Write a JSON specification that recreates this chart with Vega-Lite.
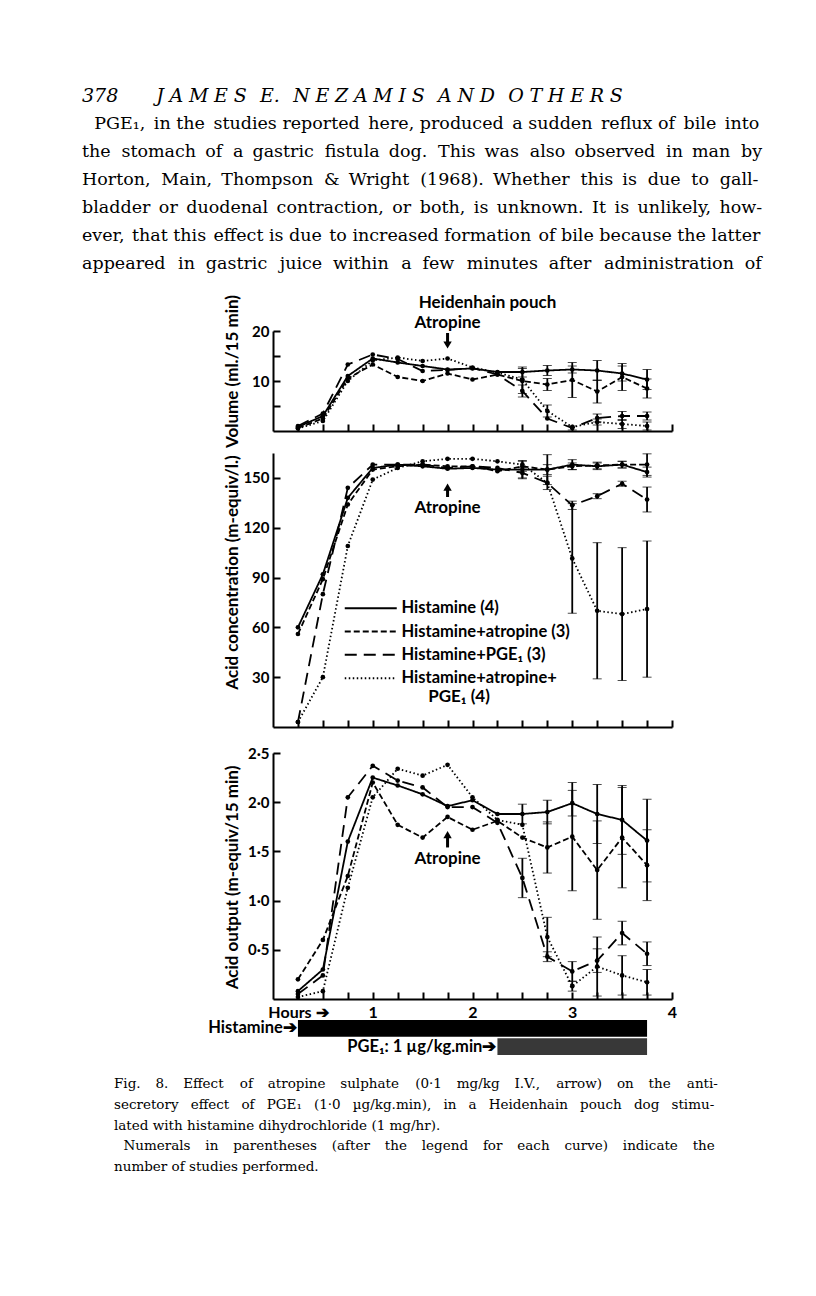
{
  "$schema": "https://vega.github.io/schema/vega-lite/v6.json",
  "background": "white",
  "padding": {"left": 82, "top": 86, "right": 5, "bottom": 5},
  "title": {
    "text": "378\u2003\u2003J\u2009\u200aA\u2009\u200aM\u2009\u200aE\u2009\u200aS\u2002\u2009E.\u2009\u2002N\u2009\u200aE\u2009\u200aZ\u2009\u200aA\u2009\u200aM\u2009\u200aI\u2009\u200aS\u2002\u2009A\u2009\u200aN\u2009\u200aD\u2002\u2009O\u2009\u200aT\u2009\u200aH\u2009\u200aE\u2009\u200aR\u2009\u200aS",
    "subtitle": [
      "\u200b\u2002\u2009PGE\u2081,\u2006 in the\u2006 studies reported\u2006 here, produced\u2006 a sudden\u2006 reflux of\u2006 bile\u2006 into",
      "the\u2009\u200a stomach\u2009 of\u2009\u200a a\u2009 gastric\u2009\u200a fistula\u2009 dog.\u2009\u200a This\u2009 was\u2009\u200a also\u2009 observed\u2009\u200a in\u2009 man\u2009\u200a by",
      "Horton,\u2009\u200a Main,\u2009 Thompson\u2009\u200a &\u2009 Wright\u2009\u200a (1968).\u2009 Whether\u2009\u200a this\u2009 is\u2009\u200a due\u2009\u200a to\u2009\u200a gall-",
      "bladder\u2006 or\u2006 duodenal\u2006 contraction,\u2006 or\u2006 both,\u2006 is\u2006 unknown.\u2006 It\u2006 is\u2006 unlikely,\u2006 how-",
      "ever,\u200a that this\u200a effect is due\u200a to increased formation\u200a of bile because the latter",
      "appeared\u2009\u200a\u200a in\u2009\u200a gastric\u2009\u200a\u200a juice\u2009\u200a within\u2009\u200a\u200a a\u2009\u200a few\u2009\u200a\u200a minutes\u2009\u200a after\u2009\u200a\u200a administration\u2009\u200a of"
    ],
    "anchor": "start",
    "frame": "group",
    "dx": -191,
    "font": "DejaVu Serif",
    "fontSize": 19,
    "fontStyle": "italic",
    "fontWeight": "normal",
    "color": "black",
    "subtitleFont": "DejaVu Serif",
    "subtitleFontSize": 17.5,
    "subtitleColor": "black",
    "subtitleLineHeight": 28,
    "subtitlePadding": 9,
    "offset": 22
  },
  "datasets": {
    "series": [
      {"panel":1,"series":"Histamine (4)","t":0.25,"v":0.8},
      {"panel":1,"series":"Histamine (4)","t":0.5,"v":3.0},
      {"panel":1,"series":"Histamine (4)","t":0.75,"v":11.0},
      {"panel":1,"series":"Histamine (4)","t":1.0,"v":14.5},
      {"panel":1,"series":"Histamine (4)","t":1.25,"v":13.7},
      {"panel":1,"series":"Histamine (4)","t":1.5,"v":13.0},
      {"panel":1,"series":"Histamine (4)","t":1.75,"v":12.3},
      {"panel":1,"series":"Histamine (4)","t":2.0,"v":12.5},
      {"panel":1,"series":"Histamine (4)","t":2.25,"v":11.8},
      {"panel":1,"series":"Histamine (4)","t":2.5,"v":11.8,"err":1.0},
      {"panel":1,"series":"Histamine (4)","t":2.75,"v":12.1,"err":1.0},
      {"panel":1,"series":"Histamine (4)","t":3.0,"v":12.3,"err":0.7},
      {"panel":1,"series":"Histamine (4)","t":3.25,"v":12.1,"err":2.0},
      {"panel":1,"series":"Histamine (4)","t":3.5,"v":11.5,"err":1.5},
      {"panel":1,"series":"Histamine (4)","t":3.75,"v":10.3,"err":2.0},
      {"panel":1,"series":"Histamine+atropine (3)","t":0.25,"v":0.6},
      {"panel":1,"series":"Histamine+atropine (3)","t":0.5,"v":2.5},
      {"panel":1,"series":"Histamine+atropine (3)","t":0.75,"v":10.5},
      {"panel":1,"series":"Histamine+atropine (3)","t":1.0,"v":13.3},
      {"panel":1,"series":"Histamine+atropine (3)","t":1.25,"v":10.8},
      {"panel":1,"series":"Histamine+atropine (3)","t":1.5,"v":10.0},
      {"panel":1,"series":"Histamine+atropine (3)","t":1.75,"v":11.5},
      {"panel":1,"series":"Histamine+atropine (3)","t":2.0,"v":10.3},
      {"panel":1,"series":"Histamine+atropine (3)","t":2.25,"v":11.3},
      {"panel":1,"series":"Histamine+atropine (3)","t":2.5,"v":10.0,"err":2.5},
      {"panel":1,"series":"Histamine+atropine (3)","t":2.75,"v":9.3,"err":1.2},
      {"panel":1,"series":"Histamine+atropine (3)","t":3.0,"v":10.2,"err":3.5},
      {"panel":1,"series":"Histamine+atropine (3)","t":3.25,"v":7.9,"err":2.3},
      {"panel":1,"series":"Histamine+atropine (3)","t":3.5,"v":10.8,"err":2.7},
      {"panel":1,"series":"Histamine+atropine (3)","t":3.75,"v":8.5,"err":1.9},
      {"panel":1,"series":"Histamine+PGE\u2081 (3)","t":0.25,"v":1.0},
      {"panel":1,"series":"Histamine+PGE\u2081 (3)","t":0.5,"v":3.5},
      {"panel":1,"series":"Histamine+PGE\u2081 (3)","t":0.75,"v":13.3},
      {"panel":1,"series":"Histamine+PGE\u2081 (3)","t":1.0,"v":15.3},
      {"panel":1,"series":"Histamine+PGE\u2081 (3)","t":1.25,"v":14.4},
      {"panel":1,"series":"Histamine+PGE\u2081 (3)","t":1.5,"v":12.0},
      {"panel":1,"series":"Histamine+PGE\u2081 (3)","t":1.75,"v":12.2},
      {"panel":1,"series":"Histamine+PGE\u2081 (3)","t":2.0,"v":12.6},
      {"panel":1,"series":"Histamine+PGE\u2081 (3)","t":2.25,"v":11.3},
      {"panel":1,"series":"Histamine+PGE\u2081 (3)","t":2.5,"v":8.0,"err":1.2},
      {"panel":1,"series":"Histamine+PGE\u2081 (3)","t":2.75,"v":2.5},
      {"panel":1,"series":"Histamine+PGE\u2081 (3)","t":3.0,"v":0.6,"err":0.4},
      {"panel":1,"series":"Histamine+PGE\u2081 (3)","t":3.25,"v":2.6,"err":0.8},
      {"panel":1,"series":"Histamine+PGE\u2081 (3)","t":3.5,"v":3.0,"err":0.9},
      {"panel":1,"series":"Histamine+PGE\u2081 (3)","t":3.75,"v":3.0,"err":0.8},
      {"panel":1,"series":"Histamine+atropine+PGE\u2081 (4)","t":0.25,"v":0.5},
      {"panel":1,"series":"Histamine+atropine+PGE\u2081 (4)","t":0.5,"v":2.0},
      {"panel":1,"series":"Histamine+atropine+PGE\u2081 (4)","t":0.75,"v":10.0},
      {"panel":1,"series":"Histamine+atropine+PGE\u2081 (4)","t":1.0,"v":14.1},
      {"panel":1,"series":"Histamine+atropine+PGE\u2081 (4)","t":1.25,"v":14.7},
      {"panel":1,"series":"Histamine+atropine+PGE\u2081 (4)","t":1.5,"v":14.0},
      {"panel":1,"series":"Histamine+atropine+PGE\u2081 (4)","t":1.75,"v":14.5},
      {"panel":1,"series":"Histamine+atropine+PGE\u2081 (4)","t":2.0,"v":12.7},
      {"panel":1,"series":"Histamine+atropine+PGE\u2081 (4)","t":2.25,"v":11.7},
      {"panel":1,"series":"Histamine+atropine+PGE\u2081 (4)","t":2.5,"v":10.3},
      {"panel":1,"series":"Histamine+atropine+PGE\u2081 (4)","t":2.75,"v":4.0,"err":1.2},
      {"panel":1,"series":"Histamine+atropine+PGE\u2081 (4)","t":3.0,"v":0.8},
      {"panel":1,"series":"Histamine+atropine+PGE\u2081 (4)","t":3.25,"v":1.8,"err":0.6},
      {"panel":1,"series":"Histamine+atropine+PGE\u2081 (4)","t":3.5,"v":1.4,"err":0.9},
      {"panel":1,"series":"Histamine+atropine+PGE\u2081 (4)","t":3.75,"v":1.0,"err":0.8},

      {"panel":2,"series":"Histamine (4)","t":0.25,"v":60},
      {"panel":2,"series":"Histamine (4)","t":0.5,"v":92},
      {"panel":2,"series":"Histamine (4)","t":0.75,"v":138},
      {"panel":2,"series":"Histamine (4)","t":1.0,"v":156},
      {"panel":2,"series":"Histamine (4)","t":1.25,"v":158},
      {"panel":2,"series":"Histamine (4)","t":1.5,"v":157},
      {"panel":2,"series":"Histamine (4)","t":1.75,"v":155.5},
      {"panel":2,"series":"Histamine (4)","t":2.0,"v":156},
      {"panel":2,"series":"Histamine (4)","t":2.25,"v":155},
      {"panel":2,"series":"Histamine (4)","t":2.5,"v":155,"err":5.5},
      {"panel":2,"series":"Histamine (4)","t":2.75,"v":155,"err":3},
      {"panel":2,"series":"Histamine (4)","t":3.0,"v":158,"err":3},
      {"panel":2,"series":"Histamine (4)","t":3.25,"v":157,"err":2},
      {"panel":2,"series":"Histamine (4)","t":3.5,"v":158,"err":2},
      {"panel":2,"series":"Histamine (4)","t":3.75,"v":153.5,"err":3},
      {"panel":2,"series":"Histamine+atropine (3)","t":0.25,"v":56},
      {"panel":2,"series":"Histamine+atropine (3)","t":0.5,"v":89},
      {"panel":2,"series":"Histamine+atropine (3)","t":0.75,"v":134},
      {"panel":2,"series":"Histamine+atropine (3)","t":1.0,"v":155},
      {"panel":2,"series":"Histamine+atropine (3)","t":1.25,"v":157},
      {"panel":2,"series":"Histamine+atropine (3)","t":1.5,"v":158},
      {"panel":2,"series":"Histamine+atropine (3)","t":1.75,"v":157},
      {"panel":2,"series":"Histamine+atropine (3)","t":2.0,"v":157},
      {"panel":2,"series":"Histamine+atropine (3)","t":2.25,"v":154},
      {"panel":2,"series":"Histamine+atropine (3)","t":2.5,"v":157,"err":3},
      {"panel":2,"series":"Histamine+atropine (3)","t":2.75,"v":155,"err":9},
      {"panel":2,"series":"Histamine+atropine (3)","t":3.0,"v":157,"err":2},
      {"panel":2,"series":"Histamine+atropine (3)","t":3.25,"v":157.5,"err":2},
      {"panel":2,"series":"Histamine+atropine (3)","t":3.5,"v":158,"err":2},
      {"panel":2,"series":"Histamine+atropine (3)","t":3.75,"v":158,"err":6.5},
      {"panel":2,"series":"Histamine+PGE\u2081 (3)","t":0.25,"v":3},
      {"panel":2,"series":"Histamine+PGE\u2081 (3)","t":0.5,"v":80},
      {"panel":2,"series":"Histamine+PGE\u2081 (3)","t":0.75,"v":144},
      {"panel":2,"series":"Histamine+PGE\u2081 (3)","t":1.0,"v":158},
      {"panel":2,"series":"Histamine+PGE\u2081 (3)","t":1.25,"v":158},
      {"panel":2,"series":"Histamine+PGE\u2081 (3)","t":1.5,"v":158},
      {"panel":2,"series":"Histamine+PGE\u2081 (3)","t":1.75,"v":156},
      {"panel":2,"series":"Histamine+PGE\u2081 (3)","t":2.0,"v":157},
      {"panel":2,"series":"Histamine+PGE\u2081 (3)","t":2.25,"v":156},
      {"panel":2,"series":"Histamine+PGE\u2081 (3)","t":2.5,"v":153,"err":3},
      {"panel":2,"series":"Histamine+PGE\u2081 (3)","t":2.75,"v":147,"err":4},
      {"panel":2,"series":"Histamine+PGE\u2081 (3)","t":3.0,"v":133.5,"err":2.5},
      {"panel":2,"series":"Histamine+PGE\u2081 (3)","t":3.25,"v":139,"err":1.5},
      {"panel":2,"series":"Histamine+PGE\u2081 (3)","t":3.5,"v":146.5,"err":1.5},
      {"panel":2,"series":"Histamine+PGE\u2081 (3)","t":3.75,"v":137,"err":7.5},
      {"panel":2,"series":"Histamine+atropine+PGE\u2081 (4)","t":0.25,"v":3},
      {"panel":2,"series":"Histamine+atropine+PGE\u2081 (4)","t":0.5,"v":30},
      {"panel":2,"series":"Histamine+atropine+PGE\u2081 (4)","t":0.75,"v":109},
      {"panel":2,"series":"Histamine+atropine+PGE\u2081 (4)","t":1.0,"v":149},
      {"panel":2,"series":"Histamine+atropine+PGE\u2081 (4)","t":1.25,"v":156},
      {"panel":2,"series":"Histamine+atropine+PGE\u2081 (4)","t":1.5,"v":160},
      {"panel":2,"series":"Histamine+atropine+PGE\u2081 (4)","t":1.75,"v":161.5},
      {"panel":2,"series":"Histamine+atropine+PGE\u2081 (4)","t":2.0,"v":161.5},
      {"panel":2,"series":"Histamine+atropine+PGE\u2081 (4)","t":2.25,"v":160},
      {"panel":2,"series":"Histamine+atropine+PGE\u2081 (4)","t":2.5,"v":158},
      {"panel":2,"series":"Histamine+atropine+PGE\u2081 (4)","t":2.75,"v":147},
      {"panel":2,"series":"Histamine+atropine+PGE\u2081 (4)","t":3.0,"v":101.5,"err":33},
      {"panel":2,"series":"Histamine+atropine+PGE\u2081 (4)","t":3.25,"v":70,"err":41},
      {"panel":2,"series":"Histamine+atropine+PGE\u2081 (4)","t":3.5,"v":68,"err":40},
      {"panel":2,"series":"Histamine+atropine+PGE\u2081 (4)","t":3.75,"v":71,"err":41},

      {"panel":3,"series":"Histamine (4)","t":0.25,"v":0.08},
      {"panel":3,"series":"Histamine (4)","t":0.5,"v":0.3},
      {"panel":3,"series":"Histamine (4)","t":0.75,"v":1.6},
      {"panel":3,"series":"Histamine (4)","t":1.0,"v":2.25},
      {"panel":3,"series":"Histamine (4)","t":1.25,"v":2.17},
      {"panel":3,"series":"Histamine (4)","t":1.5,"v":2.08},
      {"panel":3,"series":"Histamine (4)","t":1.75,"v":1.96},
      {"panel":3,"series":"Histamine (4)","t":2.0,"v":2.02},
      {"panel":3,"series":"Histamine (4)","t":2.25,"v":1.88},
      {"panel":3,"series":"Histamine (4)","t":2.5,"v":1.88,"err":0.1},
      {"panel":3,"series":"Histamine (4)","t":2.75,"v":1.9,"err":0.12},
      {"panel":3,"series":"Histamine (4)","t":3.0,"v":1.99,"err":0.13},
      {"panel":3,"series":"Histamine (4)","t":3.25,"v":1.88,"err":0.3},
      {"panel":3,"series":"Histamine (4)","t":3.5,"v":1.82,"err":0.35},
      {"panel":3,"series":"Histamine (4)","t":3.75,"v":1.61,"err":0.42},
      {"panel":3,"series":"Histamine+atropine (3)","t":0.25,"v":0.2},
      {"panel":3,"series":"Histamine+atropine (3)","t":0.5,"v":0.6},
      {"panel":3,"series":"Histamine+atropine (3)","t":0.75,"v":1.25},
      {"panel":3,"series":"Histamine+atropine (3)","t":1.0,"v":2.2},
      {"panel":3,"series":"Histamine+atropine (3)","t":1.25,"v":1.77},
      {"panel":3,"series":"Histamine+atropine (3)","t":1.5,"v":1.64},
      {"panel":3,"series":"Histamine+atropine (3)","t":1.75,"v":1.85},
      {"panel":3,"series":"Histamine+atropine (3)","t":2.0,"v":1.72},
      {"panel":3,"series":"Histamine+atropine (3)","t":2.25,"v":1.81},
      {"panel":3,"series":"Histamine+atropine (3)","t":2.5,"v":1.64},
      {"panel":3,"series":"Histamine+atropine (3)","t":2.75,"v":1.54,"err":0.26},
      {"panel":3,"series":"Histamine+atropine (3)","t":3.0,"v":1.65,"err":0.55},
      {"panel":3,"series":"Histamine+atropine (3)","t":3.25,"v":1.31,"err":0.5},
      {"panel":3,"series":"Histamine+atropine (3)","t":3.5,"v":1.64,"err":0.51},
      {"panel":3,"series":"Histamine+atropine (3)","t":3.75,"v":1.36,"err":0.36},
      {"panel":3,"series":"Histamine+PGE\u2081 (3)","t":0.25,"v":0.05},
      {"panel":3,"series":"Histamine+PGE\u2081 (3)","t":0.5,"v":0.24},
      {"panel":3,"series":"Histamine+PGE\u2081 (3)","t":0.75,"v":2.05},
      {"panel":3,"series":"Histamine+PGE\u2081 (3)","t":1.0,"v":2.37},
      {"panel":3,"series":"Histamine+PGE\u2081 (3)","t":1.25,"v":2.22},
      {"panel":3,"series":"Histamine+PGE\u2081 (3)","t":1.5,"v":2.15},
      {"panel":3,"series":"Histamine+PGE\u2081 (3)","t":1.75,"v":1.95},
      {"panel":3,"series":"Histamine+PGE\u2081 (3)","t":2.0,"v":1.95},
      {"panel":3,"series":"Histamine+PGE\u2081 (3)","t":2.25,"v":1.79},
      {"panel":3,"series":"Histamine+PGE\u2081 (3)","t":2.5,"v":1.23,"err":0.2},
      {"panel":3,"series":"Histamine+PGE\u2081 (3)","t":2.75,"v":0.43,"err":0.05},
      {"panel":3,"series":"Histamine+PGE\u2081 (3)","t":3.0,"v":0.28,"err":0.1},
      {"panel":3,"series":"Histamine+PGE\u2081 (3)","t":3.25,"v":0.39,"err":0.12},
      {"panel":3,"series":"Histamine+PGE\u2081 (3)","t":3.5,"v":0.67,"err":0.12},
      {"panel":3,"series":"Histamine+PGE\u2081 (3)","t":3.75,"v":0.46,"err":0.12},
      {"panel":3,"series":"Histamine+atropine+PGE\u2081 (4)","t":0.25,"v":0.02},
      {"panel":3,"series":"Histamine+atropine+PGE\u2081 (4)","t":0.5,"v":0.08},
      {"panel":3,"series":"Histamine+atropine+PGE\u2081 (4)","t":0.75,"v":1.13},
      {"panel":3,"series":"Histamine+atropine+PGE\u2081 (4)","t":1.0,"v":2.05},
      {"panel":3,"series":"Histamine+atropine+PGE\u2081 (4)","t":1.25,"v":2.34},
      {"panel":3,"series":"Histamine+atropine+PGE\u2081 (4)","t":1.5,"v":2.27},
      {"panel":3,"series":"Histamine+atropine+PGE\u2081 (4)","t":1.75,"v":2.38},
      {"panel":3,"series":"Histamine+atropine+PGE\u2081 (4)","t":2.0,"v":2.05},
      {"panel":3,"series":"Histamine+atropine+PGE\u2081 (4)","t":2.25,"v":1.82},
      {"panel":3,"series":"Histamine+atropine+PGE\u2081 (4)","t":2.5,"v":1.77},
      {"panel":3,"series":"Histamine+atropine+PGE\u2081 (4)","t":2.75,"v":0.63,"err":0.2},
      {"panel":3,"series":"Histamine+atropine+PGE\u2081 (4)","t":3.0,"v":0.13,"err":0.05},
      {"panel":3,"series":"Histamine+atropine+PGE\u2081 (4)","t":3.25,"v":0.33,"err":0.3},
      {"panel":3,"series":"Histamine+atropine+PGE\u2081 (4)","t":3.5,"v":0.24,"err":0.2},
      {"panel":3,"series":"Histamine+atropine+PGE\u2081 (4)","t":3.75,"v":0.17,"err":0.13}
    ],
    "ann": [
      {"panel":1,"label":"Heidenhain pouch","t":2.15,"v":25.6},
      {"panel":1,"label":"Atropine","t":1.75,"v":21.6},
      {"panel":2,"label":"Atropine","t":1.75,"v":132},
      {"panel":2,"label":"PGE\u2081 (4)","t":1.865,"v":18},
      {"panel":3,"label":"Atropine","t":1.75,"v":1.42}
    ],
    "arrows": [
      {"panel":1,"t":1.75,"tail":19.6,"head":17.2,"dir":"down"},
      {"panel":2,"t":1.75,"tail":138.5,"head":144.5,"dir":"up"},
      {"panel":3,"t":1.75,"tail":1.54,"head":1.67,"dir":"up"}
    ],
    "infusion": [
      {"label":"Histamine\u2794","start":0.25,"end":3.75},
      {"label":"PGE\u2081: 1 \u00b5g/kg.min\u2794","start":2.25,"end":3.75}
    ]
  },
  "vconcat": [
    {
      "spacing": 4,
      "resolve": {"scale": {"strokeDash": "independent", "shape": "independent"}, "legend": {"strokeDash": "independent", "shape": "independent"}},
      "vconcat": [
        {
          "width": 399, "height": 100,
          "resolve": {"axis": {"x": "independent", "y": "independent"}},
          "layer": [
            {
              "data": {"name": "series"},
              "transform": [{"filter": "datum.panel == 1"}],
              "mark": {"type": "line", "color": "black", "strokeWidth": 1.8},
              "encoding": {
                "x": {"field": "t", "type": "quantitative", "scale": {"domain": [0, 4], "nice": false},
                      "axis": {"orient": "bottom", "values": [0.25,0.5,0.75,1,1.25,1.5,1.75,2,2.25,2.5,2.75,3,3.25,3.5,3.75,4], "title": null, "labels": false}},
                "y": {"field": "v", "type": "quantitative", "scale": {"domain": [0, 20], "nice": false},
                      "axis": {"orient": "left", "values": [5,10,15,20], "labels": false, "title": null}},
                "strokeDash": {"field": "series", "type": "nominal",
                  "scale": {"domain": ["Histamine (4)", "Histamine+atropine (3)", "Histamine+PGE\u2081 (3)", "Histamine+atropine+PGE\u2081 (4)"], "range": [[1,0],[6,3],[12,7],[1.5,2.5]]},
                  "legend": null}
              }
            },
            {
              "data": {"name": "series"},
              "transform": [{"filter": "datum.panel == 1"}],
              "mark": {"type": "point", "filled": true, "color": "black", "size": 22, "opacity": 1},
              "encoding": {"x": {"field": "t", "type": "quantitative", "axis": null},
                "y": {"field": "v", "type": "quantitative",
                  "axis": {"orient": "left", "values": [10, 20], "ticks": false, "domain": false, "labelPadding": 4, "title": "Volume (ml./15 min)", "titleX": -41, "titleY": 40}}}
            },
            {
              "data": {"name": "series"},
              "transform": [{"filter": "datum.panel == 1 && datum.err > 0"}],
              "mark": {"type": "errorbar", "ticks": {"size": 9, "strokeWidth": 1.8, "color": "black"}, "rule": {"strokeWidth": 1.8, "color": "black"}},
              "encoding": {"x": {"field": "t", "type": "quantitative", "axis": null}, "y": {"field": "v", "type": "quantitative", "axis": null}, "yError": {"field": "err"}}
            },
            {
              "data": {"name": "ann"},
              "transform": [{"filter": "datum.panel == 1"}],
              "mark": {"type": "text", "font": "Lato", "fontWeight": "bold", "fontSize": 17, "color": "black", "align": "center", "baseline": "middle"},
              "encoding": {"x": {"field": "t", "type": "quantitative", "axis": null}, "y": {"field": "v", "type": "quantitative", "axis": null}, "text": {"field": "label"}}
            },
            {
              "data": {"name": "arrows"},
              "transform": [{"filter": "datum.panel == 1"}],
              "mark": {"type": "rule", "strokeWidth": 3, "color": "black"},
              "encoding": {"x": {"field": "t", "type": "quantitative", "axis": null}, "y": {"field": "tail", "type": "quantitative", "axis": null}, "y2": {"field": "head"}}
            },
            {
              "data": {"name": "arrows"},
              "transform": [{"filter": "datum.panel == 1"}],
              "mark": {"type": "point", "filled": true, "color": "black", "size": 70, "opacity": 1},
              "encoding": {"x": {"field": "t", "type": "quantitative", "axis": null}, "y": {"field": "head", "type": "quantitative", "axis": null},
                "shape": {"field": "dir", "type": "nominal", "scale": {"domain": ["down", "up"], "range": ["triangle-down", "triangle-up"]}, "legend": null}}
            }
          ]
        },
        {
          "spacing": 18,
          "resolve": {"scale": {"strokeDash": "independent", "shape": "independent"}, "legend": {"strokeDash": "independent", "shape": "independent"}},
          "vconcat": [
            {
              "width": 399, "height": 274,
              "resolve": {"axis": {"x": "independent", "y": "independent"}},
              "layer": [
                {
                  "data": {"name": "series"},
                  "transform": [{"filter": "datum.panel == 2"}],
                  "mark": {"type": "line", "color": "black", "strokeWidth": 1.8},
                  "encoding": {
                    "x": {"field": "t", "type": "quantitative", "scale": {"domain": [0, 4], "nice": false},
                          "axis": {"orient": "bottom", "values": [0.25,0.5,0.75,1,1.25,1.5,1.75,2,2.25,2.5,2.75,3,3.25,3.5,3.75,4], "title": null, "labels": false}},
                    "y": {"field": "v", "type": "quantitative", "scale": {"domain": [0, 165], "nice": false},
                          "axis": {"orient": "left", "values": [30,60,90,120,150], "labels": false, "title": null}},
                    "strokeDash": {"field": "series", "type": "nominal",
                      "scale": {"domain": ["Histamine (4)", "Histamine+atropine (3)", "Histamine+PGE\u2081 (3)", "Histamine+atropine+PGE\u2081 (4)"], "range": [[1,0],[6,3],[12,7],[1.5,2.5]]},
                      "legend": {"orient": "none", "legendX": 89.5, "legendY": 147, "title": null, "symbolType": "M-4,0H4", "symbolSize": 169, "symbolStrokeWidth": 2, "symbolStrokeColor": "black", "symbolFillColor": "transparent", "symbolOpacity": 1,
                        "labelFont": "Lato", "labelFontWeight": "bold", "labelFontSize": 16.5, "labelColor": "black", "labelOffset": 22.5, "rowPadding": 6.3, "labelLimit": 400, "padding": 0,
                        "labelExpr": "datum.label == 'Histamine+atropine+PGE\u2081 (4)' ? 'Histamine+atropine+' : datum.label"}}
                  }
                },
                {
                  "data": {"name": "series"},
                  "transform": [{"filter": "datum.panel == 2"}],
                  "mark": {"type": "point", "filled": true, "color": "black", "size": 22, "opacity": 1},
                  "encoding": {"x": {"field": "t", "type": "quantitative", "axis": null},
                    "y": {"field": "v", "type": "quantitative",
                      "axis": {"orient": "left", "values": [30,60,90,120,150], "ticks": false, "domain": false, "labelPadding": 4, "title": "Acid concentration (m-equiv/l.)", "titleX": -41, "titleY": 119}}}
                },
                {
                  "data": {"name": "series"},
                  "transform": [{"filter": "datum.panel == 2 && datum.err > 0"}],
                  "mark": {"type": "errorbar", "ticks": {"size": 9, "strokeWidth": 1.8, "color": "black"}, "rule": {"strokeWidth": 1.8, "color": "black"}},
                  "encoding": {"x": {"field": "t", "type": "quantitative", "axis": null}, "y": {"field": "v", "type": "quantitative", "axis": null}, "yError": {"field": "err"}}
                },
                {
                  "data": {"name": "ann"},
                  "transform": [{"filter": "datum.panel == 2"}],
                  "mark": {"type": "text", "font": "Lato", "fontWeight": "bold", "fontSize": 17, "color": "black", "align": "center", "baseline": "middle"},
                  "encoding": {"x": {"field": "t", "type": "quantitative", "axis": null}, "y": {"field": "v", "type": "quantitative", "axis": null}, "text": {"field": "label"}}
                },
                {
                  "data": {"name": "arrows"},
                  "transform": [{"filter": "datum.panel == 2"}],
                  "mark": {"type": "rule", "strokeWidth": 3, "color": "black"},
                  "encoding": {"x": {"field": "t", "type": "quantitative", "axis": null}, "y": {"field": "tail", "type": "quantitative", "axis": null}, "y2": {"field": "head"}}
                },
                {
                  "data": {"name": "arrows"},
                  "transform": [{"filter": "datum.panel == 2"}],
                  "mark": {"type": "point", "filled": true, "color": "black", "size": 70, "opacity": 1},
                  "encoding": {"x": {"field": "t", "type": "quantitative", "axis": null}, "y": {"field": "head", "type": "quantitative", "axis": null},
                    "shape": {"field": "dir", "type": "nominal", "scale": {"domain": ["down", "up"], "range": ["triangle-down", "triangle-up"]}, "legend": null}}
                }
              ]
            },
            {
              "width": 399, "height": 246,
              "resolve": {"axis": {"x": "independent", "y": "independent"}},
              "layer": [
                {
                  "data": {"name": "series"},
                  "transform": [{"filter": "datum.panel == 3"}],
                  "mark": {"type": "line", "color": "black", "strokeWidth": 1.8},
                  "encoding": {
                    "x": {"field": "t", "type": "quantitative", "scale": {"domain": [0, 4], "nice": false},
                          "axis": {"orient": "bottom", "values": [0.25,0.5,0.75,1,1.25,1.5,1.75,2,2.25,2.5,2.75,3,3.25,3.5,3.75,4], "title": null, "labels": false}},
                    "y": {"field": "v", "type": "quantitative", "scale": {"domain": [0, 2.5], "nice": false},
                          "axis": {"orient": "left", "values": [0.5,1,1.5,2,2.5], "labels": false, "title": null}},
                    "strokeDash": {"field": "series", "type": "nominal",
                      "scale": {"domain": ["Histamine (4)", "Histamine+atropine (3)", "Histamine+PGE\u2081 (3)", "Histamine+atropine+PGE\u2081 (4)"], "range": [[1,0],[6,3],[12,7],[1.5,2.5]]},
                      "legend": null}
                  }
                },
                {
                  "data": {"name": "series"},
                  "transform": [{"filter": "datum.panel == 3"}],
                  "mark": {"type": "point", "filled": true, "color": "black", "size": 22, "opacity": 1},
                  "encoding": {
                    "x": {"field": "t", "type": "quantitative",
                      "axis": {"orient": "bottom", "values": [0.25, 1, 2, 3, 4], "ticks": false, "domain": false, "title": null, "labelPadding": 5, "labelFontSize": 16,
                        "labelExpr": "datum.value == 0.25 ? 'Hours \u2794' : datum.label"}},
                    "y": {"field": "v", "type": "quantitative",
                      "axis": {"orient": "left", "values": [0.5,1,1.5,2,2.5], "ticks": false, "domain": false, "labelPadding": 4, "format": ".1f",
                        "labelExpr": "replace(datum.label, '.', '\u00b7')", "title": "Acid output (m-equiv/15 min)", "titleX": -41, "titleY": 124}}}
                },
                {
                  "data": {"name": "series"},
                  "transform": [{"filter": "datum.panel == 3 && datum.err > 0"}],
                  "mark": {"type": "errorbar", "ticks": {"size": 9, "strokeWidth": 1.8, "color": "black"}, "rule": {"strokeWidth": 1.8, "color": "black"}},
                  "encoding": {"x": {"field": "t", "type": "quantitative", "axis": null}, "y": {"field": "v", "type": "quantitative", "axis": null}, "yError": {"field": "err"}}
                },
                {
                  "data": {"name": "ann"},
                  "transform": [{"filter": "datum.panel == 3"}],
                  "mark": {"type": "text", "font": "Lato", "fontWeight": "bold", "fontSize": 17, "color": "black", "align": "center", "baseline": "middle"},
                  "encoding": {"x": {"field": "t", "type": "quantitative", "axis": null}, "y": {"field": "v", "type": "quantitative", "axis": null}, "text": {"field": "label"}}
                },
                {
                  "data": {"name": "arrows"},
                  "transform": [{"filter": "datum.panel == 3"}],
                  "mark": {"type": "rule", "strokeWidth": 3, "color": "black"},
                  "encoding": {"x": {"field": "t", "type": "quantitative", "axis": null}, "y": {"field": "tail", "type": "quantitative", "axis": null}, "y2": {"field": "head"}}
                },
                {
                  "data": {"name": "arrows"},
                  "transform": [{"filter": "datum.panel == 3"}],
                  "mark": {"type": "point", "filled": true, "color": "black", "size": 70, "opacity": 1},
                  "encoding": {"x": {"field": "t", "type": "quantitative", "axis": null}, "y": {"field": "head", "type": "quantitative", "axis": null},
                    "shape": {"field": "dir", "type": "nominal", "scale": {"domain": ["down", "up"], "range": ["triangle-down", "triangle-up"]}, "legend": null}}
                }
              ]
            }
          ]
        }
      ]
    },
    {
      "width": 399, "height": 35,
      "title": {
        "text": [
          "Fig.\u2002\u2009\u200a\u2009\u200a8.\u2002\u2009\u200a\u2009\u200aEffect\u2002\u2009\u200a\u2009\u2009of\u2002\u2009\u200a\u2009\u200aatropine\u2002\u2009\u200a\u2009\u200asulphate\u2002\u2009\u200a\u2009\u2009(0\u00b71\u2002\u2009\u200a\u2009\u200amg/kg\u2002\u2009\u200a\u2009\u200aI.V.,\u2002\u2009\u200a\u2009\u2009arrow)\u2002\u2009\u200a\u2009\u200aon\u2002\u2009\u200a\u2009\u200athe\u2002\u2009\u200a\u2009\u2009anti-",
          "secretory\u2002\u2009\u2009effect\u2002\u2009\u2009of\u2002\u2009\u2009PGE\u2081\u2002\u2009\u2009(1\u00b70\u2002\u2009\u2009\u00b5g/kg.min),\u2002\u2009\u2009in\u2002\u2009\u2009a\u2002\u2009\u2009Heidenhain\u2002\u2009\u2009pouch\u2002\u2009\u2009dog\u2002\u2009\u2009stimu-",
          "lated with histamine dihydrochloride (1 mg/hr).",
          "\u200b\u2002\u2009Numerals\u2002\u2009\u2009\u2009in\u2002\u2009\u2009\u2009parentheses\u2002\u2009\u2009\u2009(after\u2002\u2009\u2009\u2009the\u2002\u2009\u2009\u2009legend\u2002\u2009\u2009\u2009for\u2002\u2009\u2009\u2009each\u2002\u2009\u2009\u2009curve)\u2002\u2009\u2009\u2009indicate\u2002\u2009\u2009\u2009the",
          "number of studies performed."
        ],
        "orient": "bottom", "anchor": "start", "frame": "group", "dx": -159,
        "font": "DejaVu Serif", "fontSize": 13.5, "fontWeight": "normal", "color": "black", "lineHeight": 20.7, "offset": 22
      },
      "data": {"name": "infusion"},
      "layer": [
        {
          "mark": {"type": "bar"},
          "encoding": {
            "x": {"field": "start", "type": "quantitative", "scale": {"domain": [0, 4], "nice": false}, "axis": null},
            "x2": {"field": "end"},
            "y": {"field": "label", "type": "nominal", "sort": null, "scale": {"paddingInner": 0.08, "paddingOuter": 0}, "axis": null},
            "color": {"field": "label", "type": "nominal", "sort": null, "scale": {"range": ["#000000", "#383838"]}, "legend": null}
          }
        },
        {
          "mark": {"type": "text", "align": "right", "baseline": "middle", "dx": -1, "font": "Lato", "fontWeight": "bold", "fontSize": 16.5, "color": "black"},
          "encoding": {
            "x": {"field": "start", "type": "quantitative"},
            "y": {"field": "label", "type": "nominal", "sort": null},
            "text": {"field": "label"}
          }
        }
      ]
    }
  ],
  "spacing": -3,
  "config": {
    "view": {"stroke": null},
    "axis": {"domainColor": "black", "domainWidth": 2, "tickColor": "black", "tickWidth": 2, "tickSize": -7,
      "labelFont": "Lato", "labelFontWeight": "bold", "labelFontSize": 15, "labelColor": "black", "labelPadding": 12,
      "titleFont": "Lato", "titleFontWeight": "bold", "titleFontSize": 17, "titleColor": "black", "titleBaseline": "middle",
      "grid": false, "labelOverlap": false, "labelFlush": false}
  }
}
